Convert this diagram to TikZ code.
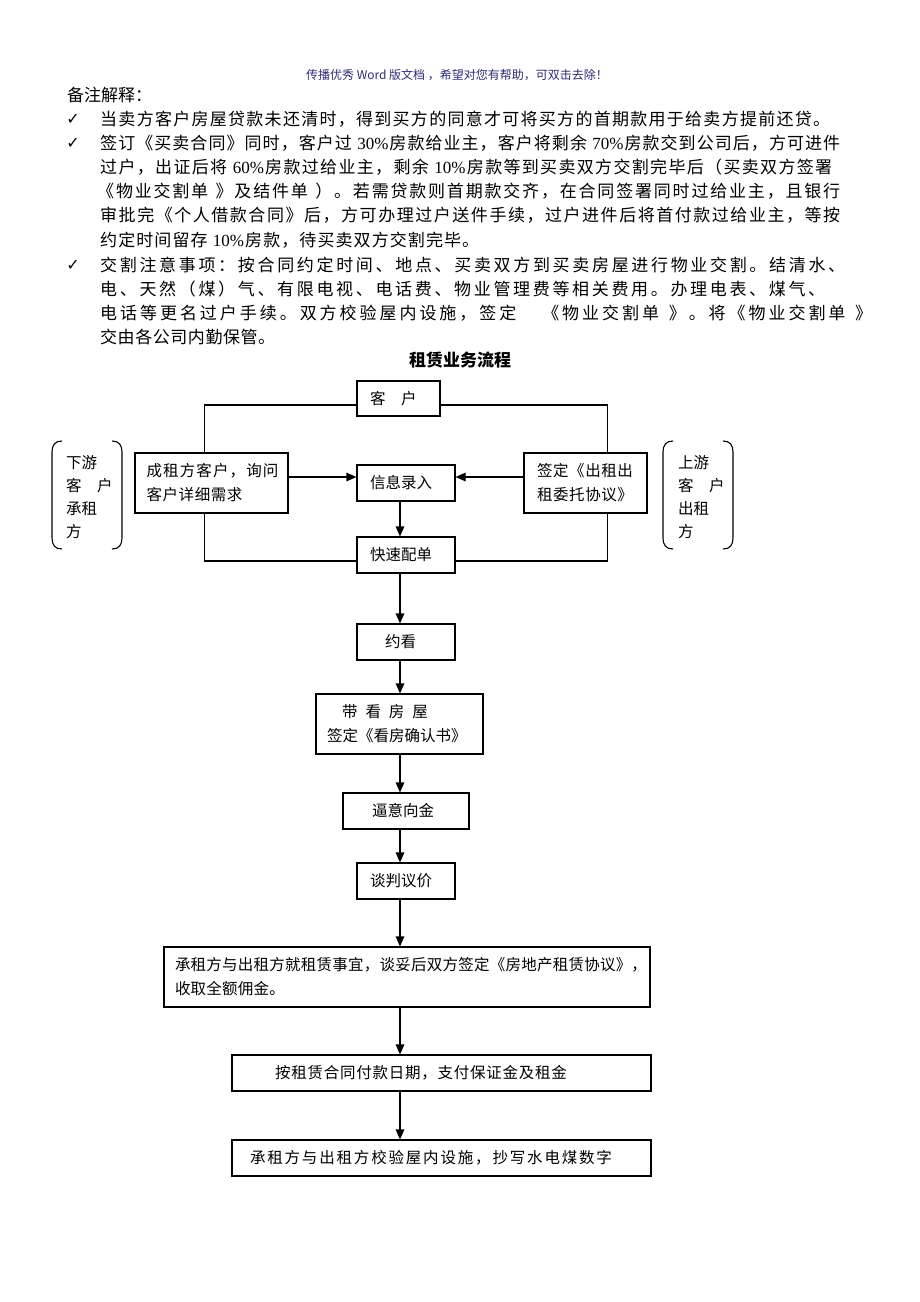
\documentclass[tikz,border=0pt]{standalone}
\usepackage{fontspec}
\setmainfont{Liberation Serif}
\newfontfamily\cjk{Noto Sans CJK SC}
\newfontfamily\sym{DejaVu Sans}
\usetikzlibrary{arrows.meta}
\definecolor{hdrblue}{RGB}{45,45,115}
\makeatletter
\newcommand\spread[2]{\makebox[#1][s]{\@tfor\@sc:=#2\do{\@sc\hfil}\unskip}}
\makeatother
\begin{document}
\begin{tikzpicture}[x=1pt,y=-1pt,
  body/.style={inner sep=0pt, anchor=west, font=\cjk\fontsize{17pt}{20pt}\selectfont},
  box/.style={draw, line width=1.1pt, inner ysep=0pt, align=left, font=\cjk\fontsize{15.5pt}{24pt}\selectfont},
  plain/.style={inner sep=0pt, align=left, anchor=west, font=\cjk\fontsize{15.5pt}{23pt}\selectfont},
  ln/.style={line width=1.1pt},
  arr/.style={line width=1.1pt, -{Triangle[length=10pt,width=8.5pt]}},
  chk/.style={inner sep=0pt, font=\sym\fontsize{16pt}{18pt}\selectfont},
  brk/.style={line width=1.1pt}
]
\fill[white] (0,0) rectangle (920,1302);
\useasboundingbox (0,0) rectangle (920,1302);

% header
\node[inner sep=0pt, text=hdrblue, font=\cjk\fontsize{12pt}{14pt}\selectfont] (hdr) at (457,75) {传播优秀 Word 版文档 ，希望对您有帮助，可双击去除！};

% notes
\node[body] (l0) at (67,95) {备注解释：};
\node[chk] (c1) at (73,119) {✓};
\node[body] (l1) at (100,119) {\spread{730pt}{当卖方客户房屋贷款未还清时，得到买方的同意才可将买方的首期款用于给卖方提前还贷。}};
\node[chk] (c2) at (73,143) {✓};
\node[body] (l2) at (100,143) {\spread{740pt}{签订《买卖合同》同时，客户过{{\rmfamily\ 30\%}}房款给业主，客户将剩余{{\rmfamily\ 70\%}}房款交到公司后，方可进件}};
\node[body] (l3) at (100,167) {\spread{732pt}{过户，出证后将{{\rmfamily\ 60\%}}房款过给业主，剩余{{\rmfamily\ 10\%}}房款等到买卖双方交割完毕后（买卖双方签署}};
\node[body] (l4) at (97,191) {\spread{743pt}{《物业交割单\ 》及结件单\ ）。若需贷款则首期款交齐，在合同签署同时过给业主，且银行}};
\node[body] (l5) at (100,215) {\spread{740pt}{审批完《个人借款合同》后，方可办理过户送件手续，过户进件后将首付款过给业主，等按}};
\node[body] (l6) at (100,240) {\spread{379pt}{约定时间留存{{\rmfamily\ 10\%}}房款，待买卖双方交割完毕。}};
\node[chk] (c3) at (73,265) {✓};
\node[body] (l7) at (100,265) {\spread{745pt}{交割注意事项：按合同约定时间、地点、买卖双方到买卖房屋进行物业交割。结清水、}};
\node[body] (l8) at (100,289) {\spread{725pt}{电、天然（煤）气、有限电视、电话费、物业管理费等相关费用。办理电表、煤气、}};
\node[body] (l9) at (100,313) {\spread{772pt}{电话等更名过户手续。双方校验屋内设施，签定{\hspace{20pt}}《物业交割单\ 》。将《物业交割单\ 》}};
\node[body] (l10) at (100,337) {\spread{175pt}{交由各公司内勤保管。}};

% title
\node[inner sep=0pt, font=\cjk\bfseries\fontsize{17pt}{20pt}\selectfont] (title) at (460,360) {租赁业务流程};

% coordinates
\coordinate (ax) at (400,0);
\coordinate (lx) at (204.5,0);
\coordinate (rx) at (607.5,0);
\coordinate (ty) at (0,405);
\coordinate (by) at (0,561);
\coordinate (ay) at (0,477);

% boxes
\node[box, minimum height=35pt, text width=57pt, inner xsep=13pt] (kehu) at (398.5,398.5) {客　户};
\node[box, minimum height=60pt, text width=130pt, inner xsep=11.5pt] (chengzu) at (211.5,483) {\spread{132pt}{成租方客户，询问}\\\spread{96pt}{客户详细需求}};
\node[box, minimum height=36pt, text width=72pt, inner xsep=13pt] (xinxi) at (406,483) {信息录入};
\node[box, minimum height=60pt, text width=97pt, inner xsep=13pt] (qianding) at (585.5,483) {\spread{96pt}{签定《出租出}\\\spread{96pt}{租委托协议》}};
\node[box, minimum height=36pt, text width=72pt, inner xsep=13pt] (kuaisu) at (406,555) {快速配单};
\node[box, minimum height=36pt, text width=42pt, inner xsep=28pt] (yuekan) at (406,642) {约看};
\node[box, minimum height=60pt, text width=145pt, inner xsep=11pt] (daikan) at (399.5,724) {\hspace*{15pt}带\hspace{8pt}看\hspace{8pt}房\hspace{8pt}屋\\签定《看房确认书》};
\node[box, minimum height=36pt, text width=68pt, inner xsep=29pt] (biyi) at (406,811) {逼意向金};
\node[box, minimum height=36pt, text width=72pt, inner xsep=13pt] (tanpan) at (406,881) {谈判议价};
\node[box, minimum height=60pt, text width=480pt, inner xsep=3pt] (chengzu2) at (407,977) {\hspace*{8pt}\spread{472pt}{承租方与出租方就租赁事宜，谈妥后双方签定《房地产租赁协议》，}\\\hspace*{8pt}\spread{110pt}{收取全额佣金。}};
\node[box, minimum height=36pt, text width=419pt, inner xsep=0pt] (anzu) at (441.5,1073) {\hspace*{43pt}\spread{292pt}{按租赁合同付款日期，支付保证金及租金}};
\node[box, minimum height=36pt, text width=419pt, inner xsep=0pt] (jiaoyan) at (441.5,1158) {\hspace*{18pt}\spread{362pt}{承租方与出租方校验屋内设施，抄写水电煤数字}};

% side groups
\node[plain] (ltext) at (66,497) {下游\\客　户\\承租\\方};
\node[plain] (rtext) at (678,497) {上游\\客　户\\出租\\方};
\draw[brk] (62,441) .. controls (55,441) and (52,445) .. (52,452) -- (52,538) .. controls (52,545) and (55,549) .. (62,549);
\draw[brk] (112,441) .. controls (119,441) and (122,445) .. (122,452) -- (122,538) .. controls (122,545) and (119,549) .. (112,549);
\draw[brk] (673,441) .. controls (666,441) and (663,445) .. (663,452) -- (663,538) .. controls (663,545) and (666,549) .. (673,549);
\draw[brk] (723,441) .. controls (730,441) and (733,445) .. (733,452) -- (733,538) .. controls (733,545) and (730,549) .. (723,549);

% loop lines
\draw[ln] (kehu.west |- ty) -| (lx |- chengzu.north);
\draw[ln] (kehu.east |- ty) -| (rx |- qianding.north);
\draw[ln] (lx |- chengzu.south) |- (kuaisu.west |- by);
\draw[ln] (rx |- qianding.south) |- (kuaisu.east |- by);

% arrows
\draw[arr] (chengzu.east |- ay) -- (xinxi.west |- ay);
\draw[arr] (qianding.west |- ay) -- (xinxi.east |- ay);
\draw[arr] (xinxi.south -| ax) -- (kuaisu.north -| ax);
\draw[arr] (kuaisu.south -| ax) -- (yuekan.north -| ax);
\draw[arr] (yuekan.south -| ax) -- (daikan.north -| ax);
\draw[arr] (daikan.south -| ax) -- (biyi.north -| ax);
\draw[arr] (biyi.south -| ax) -- (tanpan.north -| ax);
\draw[arr] (tanpan.south -| ax) -- (chengzu2.north -| ax);
\draw[arr] (chengzu2.south -| ax) -- (anzu.north -| ax);
\draw[arr] (anzu.south -| ax) -- (jiaoyan.north -| ax);
\end{tikzpicture}
\end{document}
